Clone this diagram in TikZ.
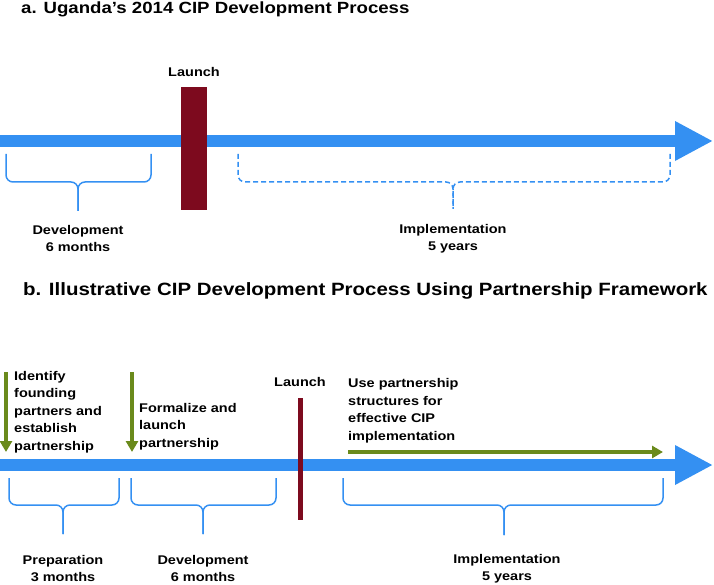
\documentclass[tikz,border=0pt]{standalone}
\usepackage{fontspec}
\setmainfont{Liberation Sans}[FakeStretch=1.15]
\usetikzlibrary{arrows.meta,positioning}
\definecolor{tlblue}{HTML}{3490F2}
\definecolor{launchred}{HTML}{7D0A1E}
\definecolor{stepgreen}{HTML}{6A8A1C}
\begin{document}
\begin{tikzpicture}[x=1pt,y=-1pt,
        title/.style={font=\fontsize{16.2}{20}\selectfont\bfseries, anchor=base west, inner sep=0},
        lbl/.style={font=\fontsize{12.6}{17.3}\selectfont\bfseries, align=center, inner sep=0},
        steptext/.style={lbl, align=left, anchor=west, font=\fontsize{12.6}{17.5}\selectfont\bfseries},
        timeline/.style={tlblue, line width=12pt, -{Triangle[length=38pt,width=37pt]}},
        brace/.style={tlblue, line width=1.5pt, rounded corners=7pt},
        greenarrow/.style={stepgreen, line width=4pt, -{Triangle[length=11pt,width=12pt]}}]
        \useasboundingbox (0,0) rectangle (714,585);
        % a. Uganda timeline
        \node[title] (titleA) at (21,13.3) {a. Uganda’s 2014 CIP Development Process};
        \coordinate (tlAstart) at (0,141);
        \coordinate (tlAend) at (713,141);
        \draw[timeline] (tlAstart) -- (tlAend);
        \node[fill=launchred, minimum width=26pt, minimum height=123pt, inner sep=0] (launchA) at (194,148.5) {};
        \node[lbl, above=9.5pt of launchA] (launchAlbl) {Launch};
        % Braces under timeline a
        \draw[brace] (6,154) -- (6,182) -- (78,182) -- (78,211);
        \draw[brace] (151,154) -- (151,182) -- (78,182) -- (78,211);
        \draw[brace, dash pattern=on 5pt off 3pt] (238,154) -- (238,182) -- (453,182) -- (453,209);
        \draw[brace, dash pattern=on 5pt off 3pt] (670,154) -- (670,182) -- (453,182) -- (453,209);
        \node[lbl] (devA) at (78,238.5) {Development\\6 months};
        \node[lbl] (implA) at (453,238.5) {Implementation\\5 years};
        % b. Partnership timeline
        \node[title, font=\fontsize{17.8}{22}\selectfont\bfseries] (titleB) at (23,295) {b. Illustrative CIP Development Process Using Partnership Framework};
        \coordinate (tlBstart) at (0,465);
        \coordinate (tlBend) at (713,465);
        \draw[timeline] (tlBstart) -- (tlBend);
        \node[fill=launchred, minimum width=5pt, minimum height=122pt, inner sep=0] (launchB) at (300,459) {};
        \node[lbl, above=10.5pt of launchB] (launchBlbl) {Launch};
        % Partnership steps
        \node[steptext] (identify) at (14,412) {Identify\\founding\\partners and\\establish\\partnership};
        \node[steptext] (formalize) at (139,426.7) {Formalize and\\launch\\partnership};
        \node[steptext] (usepart) at (348,410.7) {Use partnership\\structures for\\effective CIP\\implementation};
        \coordinate (idS) at (6,372);
        \coordinate (idE) at (6,452);
        \coordinate (fmS) at (132,372);
        \coordinate (fmE) at (132,452);
        \coordinate (upS) at (348,452);
        \coordinate (upE) at (663,452);
        \draw[greenarrow] (idS) -- (idE);
        \draw[greenarrow] (fmS) -- (fmE);
        \draw[greenarrow] (upS) -- (upE);
        % Braces under timeline b
        \draw[brace] (9,478) -- (9,505) -- (63,505) -- (63,534);
        \draw[brace] (119,478) -- (119,505) -- (63,505) -- (63,534);
        \draw[brace] (131,478) -- (131,505) -- (203,505) -- (203,534);
        \draw[brace] (276,478) -- (276,505) -- (203,505) -- (203,534);
        \draw[brace] (343,478) -- (343,505) -- (504,505) -- (504,535);
        \draw[brace] (663,478) -- (663,505) -- (504,505) -- (504,535);
        \node[lbl] (prepB) at (63,568.5) {Preparation\\3 months};
        \node[lbl] (devB) at (203,568.5) {Development\\6 months};
        \node[lbl] (implB) at (507,568.5) {Implementation\\5 years};
    \end{tikzpicture}
\end{document}
